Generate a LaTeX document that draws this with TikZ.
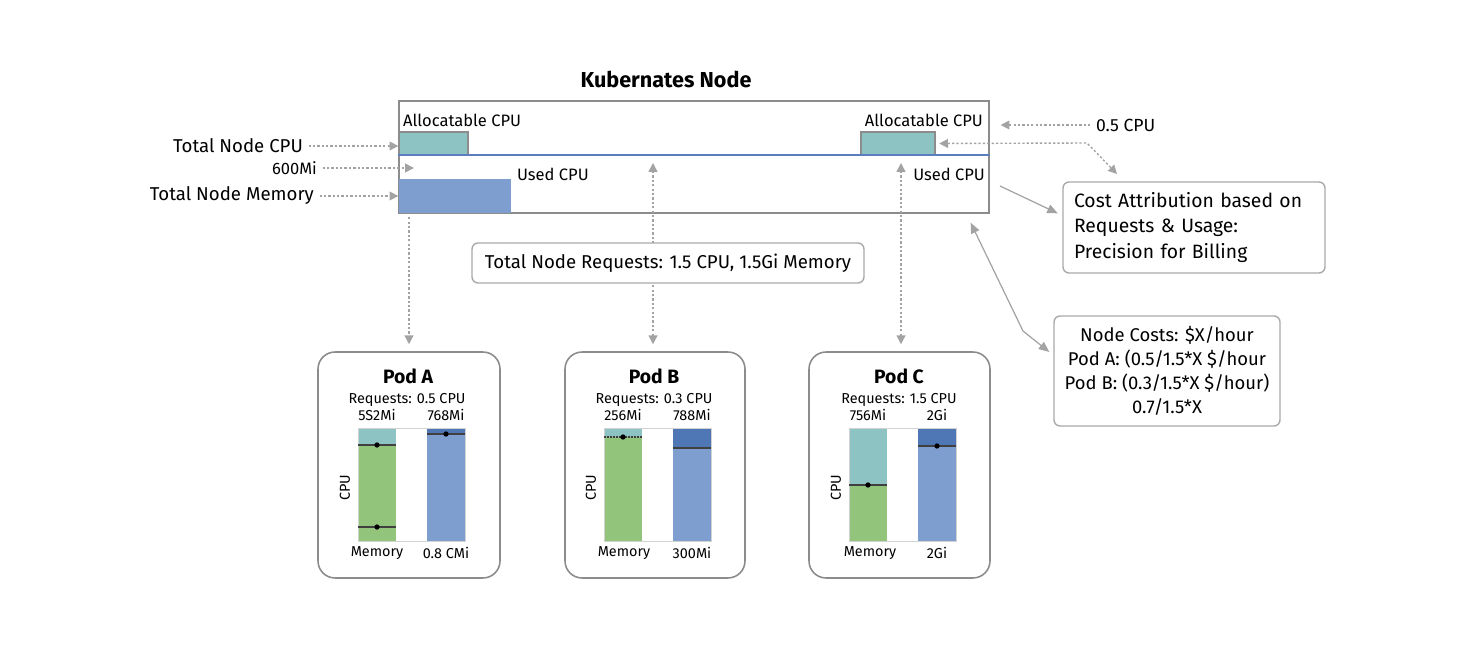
\documentclass[tikz,border=0pt]{standalone}
\usepackage{fontspec}
\setmainfont{Fira Sans}
\usetikzlibrary{arrows.meta,positioning}

\definecolor{boxgray}{HTML}{8C8C8C}
\definecolor{arrowgray}{HTML}{A3A3A3}
\definecolor{tealc}{HTML}{8DC3C2}
\definecolor{greenc}{HTML}{93C47B}
\definecolor{membluec}{HTML}{7E9ECF}
\definecolor{darkbluec}{HTML}{4F76B5}
\definecolor{dividerblue}{HTML}{5B7EC1}

\tikzset{
  box/.style={draw=boxgray, line width=0.8pt, inner sep=0pt},
  notebox/.style={draw=boxgray!75, line width=0.8pt, fill=white, rounded corners=0.12cm, inner sep=0pt},
  podbox/.style={draw=boxgray, line width=0.9pt, fill=white, rounded corners=0.34cm, inner sep=0pt},
  lbl/.style={inner sep=1pt, font=\fontsize{9.4}{11}\selectfont},
  sidelbl/.style={inner sep=1pt, font=\fontsize{10.6}{12}\selectfont},
  podtitle/.style={inner sep=0pt, font=\bfseries\fontsize{11}{12}\selectfont},
  podtxt/.style={inner sep=0pt, font=\fontsize{8.2}{9}\selectfont},
  marker/.style={draw=black!75, line width=0.6pt},
  dotarrow/.style={draw=arrowgray, dash pattern=on 1.3pt off 1.2pt, line width=0.8pt, shorten <=2pt,
    -{Triangle[length=5pt,width=5pt]}},
  dotboth/.style={dotarrow, {Triangle[length=5pt,width=5pt]}-{Triangle[length=5pt,width=5pt]}},
  linearrow/.style={draw=arrowgray, line width=0.7pt, -{Triangle[length=6pt,width=5pt]}},
  lineboth/.style={linearrow, {Triangle[length=6pt,width=5pt]}-{Triangle[length=6pt,width=5pt]}}
}

\begin{document}
\begin{tikzpicture}[x=0.02cm, y=-0.02cm]
  \useasboundingbox (0,0) rectangle (1478,672);

  % Node box
  \node[font=\bfseries\fontsize{12.3}{15}\selectfont] (title) at (666,79) {Kubernates Node};
  \node[box, minimum width=11.8cm, minimum height=2.24cm] (nodebox) at (694,157) {};
  \node[box, fill=tealc, minimum width=1.38cm, minimum height=0.46cm] (cpuL) at (433.5,143.5) {};
  \node[box, fill=tealc, minimum width=1.48cm, minimum height=0.46cm] (cpuR) at (898,143.5) {};
  \node[box, draw=none, fill=membluec, minimum width=2.24cm, minimum height=0.68cm] (membar) at (455,196) {};
  \coordinate (divider) at (694,155);
  \draw[dividerblue, line width=1.4pt] (nodebox.west |- divider) -- (nodebox.east |- divider);

  \node[lbl, anchor=west] (allocL) at (401,120) {Allocatable CPU};
  \node[lbl, anchor=east] (allocR) at (985,120) {Allocatable CPU};
  \node[lbl, anchor=west] (usedL) at (515,174) {Used CPU};
  \node[lbl, anchor=east] (usedR) at (987,174) {Used CPU};

  % Side labels
  \node[sidelbl, anchor=east] (cpulbl) at (305,146) {Total Node CPU};
  \node[lbl, anchor=east] (mem600) at (319,168) {600Mi};
  \node[sidelbl, anchor=east] (memlbl) at (316,196) {Total Node Memory};
  \node[lbl, anchor=west, font=\fontsize{10}{12}\selectfont] (cpu05) at (1094,125) {0.5 CPU};
  \coordinate (memtip) at (414,168);

  \draw[dotarrow] (cpulbl.east) -- (cpulbl.east -| nodebox.west);
  \draw[dotarrow] (mem600) -- (memtip);
  \draw[dotarrow] (memlbl.east) -- (memlbl.east -| nodebox.west);
  \draw[dotarrow, shorten >=0.22cm] (cpu05.west) -- (cpu05.west -| nodebox.east);

  % Cost notes
  \node[notebox, text width=4.8cm, inner xsep=0.22cm, minimum height=1.82cm, align=left,
    font=\fontsize{11}{14.5}\selectfont] (costbox) at (1194,227.5)
    {Cost Attribution based on\\Requests \& Usage:\\Precision for Billing};
  \node[notebox, minimum width=4.52cm, minimum height=2.2cm, align=center,
    font=\fontsize{10.5}{13.6}\selectfont] (costs) at (1167,371)
    {Node Costs: \$X/hour\\Pod A: (0.5/1.5*X \$/hour\\Pod B: (0.3/1.5*X \$/hour)\\0.7/1.5*X};

  \coordinate (bend) at (1087,143);
  \coordinate (costtop) at (1117,174);
  \coordinate (usedout) at (1000,186);
  \coordinate (elbow) at (1023,331);
  \draw[dotboth] (cpuR.east) -- (bend) -- (costtop);
  \draw[linearrow, shorten >=0.1cm] (usedout) -- ([yshift=0.24cm]costbox.west);
  \draw[lineboth] ([shift={(-19,9)}]nodebox.south east) -- (elbow) -- ([shift={(-4,-19)}]costs.west);

  % Pods
  \node[podbox, minimum width=3.64cm, minimum height=4.52cm] (podA) at (409,465) {};
  \node[podbox, minimum width=3.6cm, minimum height=4.52cm] (podB) at (655,465) {};
  \node[podbox, minimum width=3.62cm, minimum height=4.52cm] (podC) at (899.5,465) {};

  \draw[dotarrow, shorten >=0.14cm] (podA.north |- membar.south) -- (podA.north);
  \draw[dotboth, shorten <=0.14cm, shorten >=0.16cm] ([xshift=-0.04cm]podB.north) -- ([xshift=-0.04cm]podB.north |- divider);
  \draw[dotboth, shorten <=0.14cm, shorten >=0.16cm] ([xshift=0.03cm]podC.north) -- ([xshift=0.03cm]podC.north |- divider);

  \node[notebox, minimum width=7.84cm, minimum height=0.8cm, font=\fontsize{10.6}{12}\selectfont] (reqbox) at (668,263)
    {Total Node Requests: 1.5 CPU, 1.5Gi Memory};

  % Pod A
  \node[podtitle] (podAtitle) at (408,376) {Pod A};
  \node[podtxt] (podAreq) at (407,400) {Requests: 0.5 CPU};
  \node[podtxt] (podAleft) at (377,415) {5S2Mi};
  \node[podtxt] (podAright) at (446,415) {768Mi};
  \fill[tealc] (358,428) rectangle (396,445);
  \fill[greenc] (358,445) rectangle (396,541);
  \fill[darkbluec] (427,428) rectangle (465,434);
  \fill[membluec] (427,434) rectangle (465,541);
  \draw[gray!35] (358,428) rectangle (465,541);
  \draw[marker] (358,445) -- (396,445);
  \draw[marker] (358,527) -- (396,527);
  \draw[marker] (427,434) -- (465,434);
  \fill (377,445) circle (1.5pt) (377,527) circle (1.5pt) (446,434) circle (1.5pt);
  \node[podtxt, rotate=90] (podAcpu) at (345,488) {CPU};
  \node[podtxt] (podAmem) at (377,553) {Memory};
  \node[podtxt] (podAuse) at (446,553) {0.8 CMi};

  % Pod B
  \node[podtitle] (podBtitle) at (654,376) {Pod B};
  \node[podtxt] (podBreq) at (654,400) {Requests: 0.3 CPU};
  \node[podtxt] (podBleft) at (623,415) {256Mi};
  \node[podtxt] (podBright) at (692,415) {788Mi};
  \fill[tealc] (604,428) rectangle (642,437);
  \fill[greenc] (604,437) rectangle (642,541);
  \fill[darkbluec] (673,428) rectangle (711,448);
  \fill[membluec] (673,448) rectangle (711,541);
  \draw[gray!35] (604,428) rectangle (711,541);
  \draw[marker, dash pattern=on 1pt off 0.7pt] (604,437) -- (642,437);
  \draw[marker] (673,448) -- (711,448);
  \fill (623,437) circle (1.5pt);
  \node[podtxt, rotate=90] (podBcpu) at (591,488) {CPU};
  \node[podtxt] (podBmem) at (624,553) {Memory};
  \node[podtxt] (podBuse) at (692,553) {300Mi};

  % Pod C
  \node[podtitle] (podCtitle) at (899,376) {Pod C};
  \node[podtxt] (podCreq) at (899,400) {Requests: 1.5 CPU};
  \node[podtxt] (podCleft) at (868,415) {756Mi};
  \node[podtxt] (podCright) at (937,415) {2Gi};
  \fill[tealc] (849,428) rectangle (887,485);
  \fill[greenc] (849,485) rectangle (887,541);
  \fill[darkbluec] (918,428) rectangle (956,446);
  \fill[membluec] (918,446) rectangle (956,541);
  \draw[gray!35] (849,428) rectangle (956,541);
  \draw[marker] (849,485) -- (887,485);
  \draw[marker] (918,446) -- (956,446);
  \fill (868,485) circle (1.5pt) (937,446) circle (1.5pt);
  \node[podtxt, rotate=90] (podCcpu) at (836,488) {CPU};
  \node[podtxt] (podCmem) at (870,553) {Memory};
  \node[podtxt] (podCuse) at (937,553) {2Gi};
\end{tikzpicture}
\end{document}
